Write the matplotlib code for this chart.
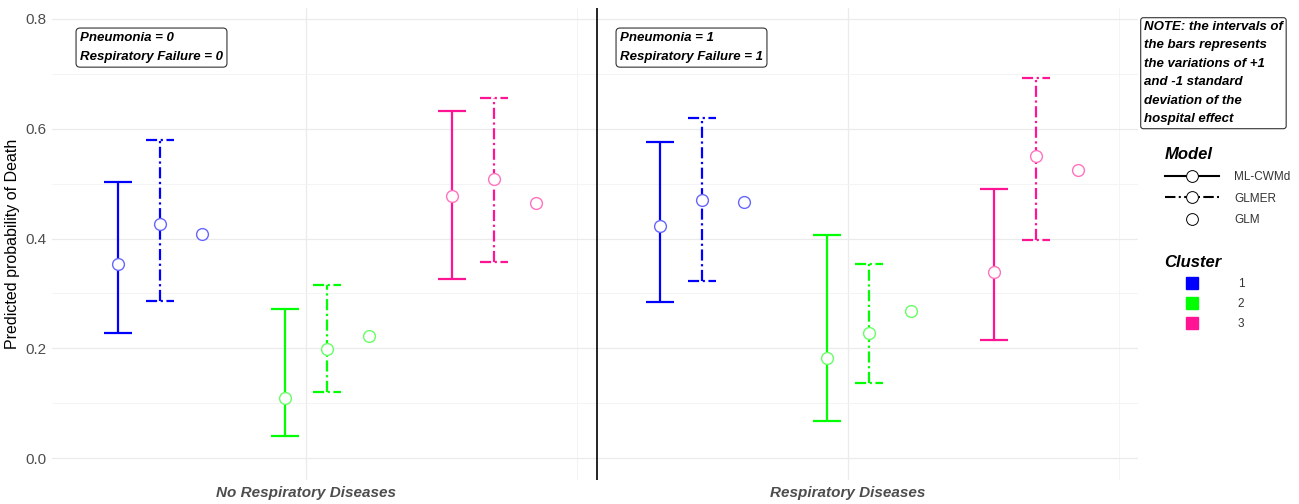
import matplotlib
matplotlib.use("Agg")
import matplotlib.pyplot as plt
from matplotlib.lines import Line2D
import numpy as np

plt.rcParams['font.family'] = ['Liberation Sans', 'DejaVu Sans']

# data
groups = ["No Respiratory Diseases", "Respiratory Diseases"]
clusters = ["1", "2", "3"]
colors = ["#0000FF", "#00FF00", "#FF1493"]
models = ["ML-CWMd", "GLMER", "GLM"]

# point estimates [group][cluster]
ml_est = [[0.353, 0.110, 0.477], [0.422, 0.182, 0.339]]
ml_lo = [[0.228, 0.040, 0.327], [0.284, 0.067, 0.215]]
ml_hi = [[0.503, 0.272, 0.632], [0.575, 0.406, 0.491]]

glmer_est = [[0.426, 0.199, 0.508], [0.470, 0.228, 0.550]]
glmer_lo = [[0.287, 0.120, 0.358], [0.323, 0.137, 0.398]]
glmer_hi = [[0.579, 0.315, 0.656], [0.620, 0.354, 0.693]]

glm_est = [[0.408, 0.223, 0.465], [0.467, 0.268, 0.525]]

notes = ["Pneumonia = 0\nRespiratory Failure = 0",
         "Pneumonia = 1\nRespiratory Failure = 1"]

fig = plt.figure(figsize=(12.99, 5.04), dpi=100)
ax = fig.add_axes([52/1299, 24/504, 1086/1299, 472/504])

cl_shift = 0.308
m_off = [-0.0387, 0.0387, 0.116]
cap = 0.026
dashdot = (0, (5, 1.6, 1, 1.6))

for g in range(2):
    for c in range(3):
        base = g + 1 + (c - 1) * cl_shift
        col = colors[c]
        # ML-CWMd
        x = base + m_off[0]
        ax.vlines(x, ml_lo[g][c], ml_hi[g][c], color=col, lw=1.6, zorder=2)
        ax.hlines([ml_lo[g][c], ml_hi[g][c]], x - cap, x + cap, color=col, lw=1.6, zorder=2)
        ax.plot(x, ml_est[g][c], 'o', ms=8.5, mfc='white', mec=col, mew=1.0, zorder=3)
        # GLMER
        x = base + m_off[1]
        ax.vlines(x, glmer_lo[g][c], glmer_hi[g][c], color=col, lw=1.6, linestyles=[dashdot], zorder=2)
        ax.hlines([glmer_lo[g][c], glmer_hi[g][c]], x - cap, x + cap, color=col, lw=1.6,
                  linestyles=[dashdot], zorder=2)
        ax.plot(x, glmer_est[g][c], 'o', ms=8.5, mfc='white', mec=col, mew=1.0, zorder=3)
        # GLM
        x = base + m_off[2]
        ax.plot(x, glm_est[g][c], 'o', ms=8.5, mfc='white', mec=col, mew=1.0, zorder=3)

# soften marker edges like ggplot alpha
for ln in ax.lines:
    ec = matplotlib.colors.to_rgb(ln.get_markeredgecolor())
    ln.set_markeredgecolor(tuple(1 - 0.6 * (1 - v) for v in ec))

ax.axvline(1.537, color='black', lw=1.2, zorder=2)

ax.set_xlim(0.531, 2.535)
ax.set_ylim(-0.04, 0.82)
ax.set_xticks([1, 2])
ax.set_xticks([1.5, 2.5], minor=True)
ax.set_xticklabels(groups, fontsize=11, fontweight='bold', fontstyle='italic', color='#4D4D4D')
ax.set_yticks([0.0, 0.2, 0.4, 0.6, 0.8])
ax.set_yticks([0.1, 0.3, 0.5, 0.7], minor=True)
ax.set_yticklabels(["0.0", "0.2", "0.4", "0.6", "0.8"], fontsize=11, color='#4D4D4D')
ax.tick_params(which='both', length=0, pad=4)
ax.grid(which='major', color='#EBEBEB', lw=0.9)
ax.grid(which='minor', color='#F3F3F3', lw=0.6)
ax.set_axisbelow(True)
for s in ax.spines.values():
    s.set_visible(False)
ax.set_ylabel("Predicted probability of Death", fontsize=11.5, color='black', labelpad=4)

box = dict(boxstyle='round,pad=0.3,rounding_size=0.3', fc='white', ec='#333333', lw=0.8)
ax.text(80/1299, 1 - 32/504, notes[0], transform=fig.transFigure, fontsize=9.5,
        fontweight='bold', fontstyle='italic', va='top', ha='left', linespacing=1.8, bbox=box)
ax.text(620/1299, 1 - 32/504, notes[1], transform=fig.transFigure, fontsize=9.5,
        fontweight='bold', fontstyle='italic', va='top', ha='left', linespacing=1.8, bbox=box)

note = ("NOTE: the intervals of\nthe bars represents\nthe variations of +1\n"
        "and -1 standard\ndeviation of the\nhospital effect")
fig.text(1144/1299, 1 - 21/504, note, fontsize=9.5, fontweight='bold', fontstyle='italic',
         va='top', ha='left', linespacing=1.72,
         bbox=dict(boxstyle='round,pad=0.25,rounding_size=0.2', fc='white', ec='#333333', lw=0.8))

model_handles = [
    Line2D([], [], color='black', ls='-', lw=1.5, marker='o', ms=8.5, mfc='white', mec='black', mew=0.7),
    Line2D([], [], color='black', ls=dashdot, lw=1.5, marker='o', ms=8.5, mfc='white', mec='black', mew=0.7),
    Line2D([], [], color='black', ls='None', marker='o', ms=8.5, mfc='white', mec='black', mew=0.7),
]
leg1 = fig.legend(model_handles, models, title="Model", loc='upper left',
                  bbox_to_anchor=(1154/1299, 1 - 136/504), frameon=False, fontsize=8.5,
                  handlelength=4.6, handletextpad=1.3, labelspacing=0.8, alignment='left',
                  title_fontproperties={'weight': 'bold', 'style': 'italic', 'size': 12})
for t in leg1.get_texts():
    t.set_color('#333333')

cluster_handles = [Line2D([], [], ls='None', marker='s', ms=8, color=c) for c in colors]
leg2 = fig.legend(cluster_handles, clusters, title="Cluster", loc='upper left',
                  bbox_to_anchor=(1154/1299, 1 - 244/504), frameon=False, fontsize=8.5,
                  handlelength=4.6, handletextpad=1.6, labelspacing=0.7, alignment='left',
                  title_fontproperties={'weight': 'bold', 'style': 'italic', 'size': 12})
for t in leg2.get_texts():
    t.set_color('#333333')

fig.savefig("out.png", dpi=100)
